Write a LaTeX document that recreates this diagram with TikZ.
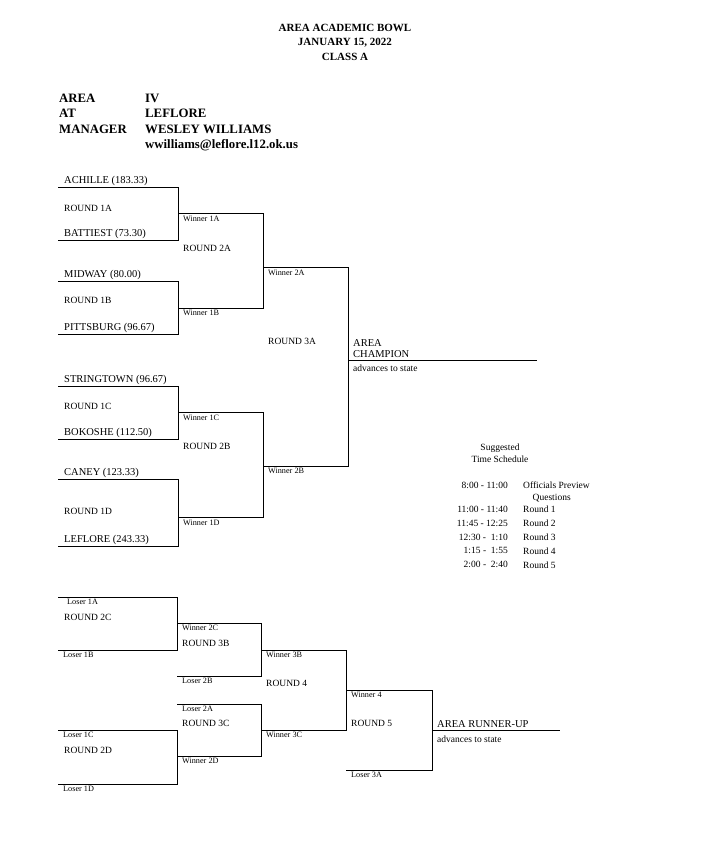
\documentclass[tikz,border=0pt]{standalone}
\usepackage{fontspec}
\setmainfont{Liberation Serif}
\usepackage{tikz}

\begin{document}
\begin{tikzpicture}[x=1pt,y=-1pt,
    team/.style={anchor=south west,inner sep=1pt,font=\fontsize{10.5}{11.5}\selectfont},
    rnd/.style={anchor=west,inner sep=1pt,font=\fontsize{9.5}{10}\selectfont},
    small/.style={anchor=north west,inner sep=1pt,font=\fontsize{8.2}{9}\selectfont},
    head/.style={anchor=west,inner sep=0pt,font=\bfseries\fontsize{12.8}{13}\selectfont}]
    \useasboundingbox (0,0) rectangle (720,864);
    % title
    \node[font=\bfseries\fontsize{11}{14.5}\selectfont,align=center] (title) at (345,42) {AREA ACADEMIC BOWL\\JANUARY 15, 2022\\CLASS A};
    \node[head] (area) at (59,98) {AREA};
    \node[head] (at) at (59,113) {AT};
    \node[head] (mgr) at (59,129) {MANAGER};
    \node[head] (iv) at (145,98) {IV};
    \node[head] (site) at (145,113) {LEFLORE};
    \node[head] (name) at (145,129) {WESLEY WILLIAMS};
    \node[head] (mail) at (145,145) {wwilliams@leflore.l12.ok.us};
    % winners bracket
    \draw[thick] (58,187) -| (178,240) -- (58,240);
    \draw[thick] (58,281) -| (178,334) -- (58,334);
    \draw[thick] (58,386) -| (178,439) -- (58,439);
    \draw[thick] (58,479) -| (178,546) -- (58,546);
    \draw[thick] (178,213) -| (263,308) -- (178,308);
    \draw[thick] (178,412) -| (263,517) -- (178,517);
    \draw[thick] (263,267) -| (348,466) -- (263,466);
    \draw[thick] (348,360) -- (537,360);
    \node[team] (t1) at (63,187) {ACHILLE (183.33)};
    \node[team] (t2) at (63,240) {BATTIEST (73.30)};
    \node[team] (t3) at (63,281) {MIDWAY (80.00)};
    \node[team] (t4) at (63,334) {PITTSBURG (96.67)};
    \node[team] (t5) at (63,386) {STRINGTOWN (96.67)};
    \node[team] (t6) at (63,439) {BOKOSHE (112.50)};
    \node[team] (t7) at (63,479) {CANEY (123.33)};
    \node[team] (t8) at (63,546) {LEFLORE (243.33)};
    \node[rnd] (r1a) at (63,208) {ROUND 1A};
    \node[rnd] (r1b) at (63,300) {ROUND 1B};
    \node[rnd] (r1c) at (63,406) {ROUND 1C};
    \node[rnd] (r1d) at (63,511) {ROUND 1D};
    \node[rnd] (r2a) at (182,248) {ROUND 2A};
    \node[rnd] (r2b) at (182,446) {ROUND 2B};
    \node[rnd] (r3a) at (267,341) {ROUND 3A};
    \node[small] (w1a) at (182,215) {Winner 1A};
    \node[small] (w1b) at (182,309) {Winner 1B};
    \node[small] (w1c) at (182,414) {Winner 1C};
    \node[small] (w1d) at (182,519) {Winner 1D};
    \node[small] (w2a) at (267,269) {Winner 2A};
    \node[small] (w2b) at (267,467) {Winner 2B};
    \node[team,align=left] (champ) at (352,359) {AREA\\CHAMPION};
    \node[rnd] (adv1) at (352,368) {advances to state};
    % schedule
    \node[font=\fontsize{9.5}{12.5}\selectfont,align=center] (sched) at (500,453) {Suggested\\Time Schedule};
    \node[font=\fontsize{9.5}{13.8}\selectfont,anchor=north east,align=right,inner sep=0pt] (times) at (508,482)
      {8:00 - 11:00\\[10.2pt]11:00 - 11:40\\11:45 - 12:25\\12:30 - \ 1:10\\1:15 - \ 1:55\\2:00 - \ 2:40};
    \node[font=\fontsize{9.5}{13.8}\selectfont,anchor=north west,align=left,inner sep=0pt] (rounds) at (523,482)
      {Officials Preview\\[-1.8pt]\hspace*{0pt}\quad Questions\\[-1.8pt]Round 1\\Round 2\\Round 3\\Round 4\\Round 5};
    % consolation bracket
    \draw[thick] (58,597) -| (177,650) -- (58,650);
    \draw[thick] (58,730) -| (177,784) -- (58,784);
    \draw[thick] (177,623) -| (261,676) -- (177,676);
    \draw[thick] (177,704) -| (261,756) -- (177,756);
    \draw[thick] (261,650) -| (346,730) -- (261,730);
    \draw[thick] (346,690) -| (432,770) -- (346,770);
    \draw[thick] (432,730) -- (560,730);
    \node[small] (l1a) at (66,598) {Loser 1A};
    \node[small] (l1b) at (62,651) {Loser 1B};
    \node[small] (l1c) at (62,731) {Loser 1C};
    \node[small] (l1d) at (62,785) {Loser 1D};
    \node[small] (w2c) at (181,624) {Winner 2C};
    \node[small] (l2b) at (181,677) {Loser 2B};
    \node[small] (l2a) at (181,705) {Loser 2A};
    \node[small] (w2d) at (181,757) {Winner 2D};
    \node[small] (w3b) at (265,651) {Winner 3B};
    \node[small] (w3c) at (265,731) {Winner 3C};
    \node[small] (w4) at (350,691) {Winner 4};
    \node[small] (l3a) at (350,771) {Loser 3A};
    \node[rnd] (r2c) at (63,617) {ROUND 2C};
    \node[rnd] (r2d) at (63,750) {ROUND 2D};
    \node[rnd] (r3b) at (181,643) {ROUND 3B};
    \node[rnd] (r3c) at (181,723) {ROUND 3C};
    \node[rnd] (r4) at (265,683) {ROUND 4};
    \node[rnd] (r5) at (350,723) {ROUND 5};
    \node[team] (runner) at (436,729) {AREA RUNNER-UP};
    \node[rnd] (adv2) at (436,739) {advances to state};
\end{tikzpicture}
\end{document}
